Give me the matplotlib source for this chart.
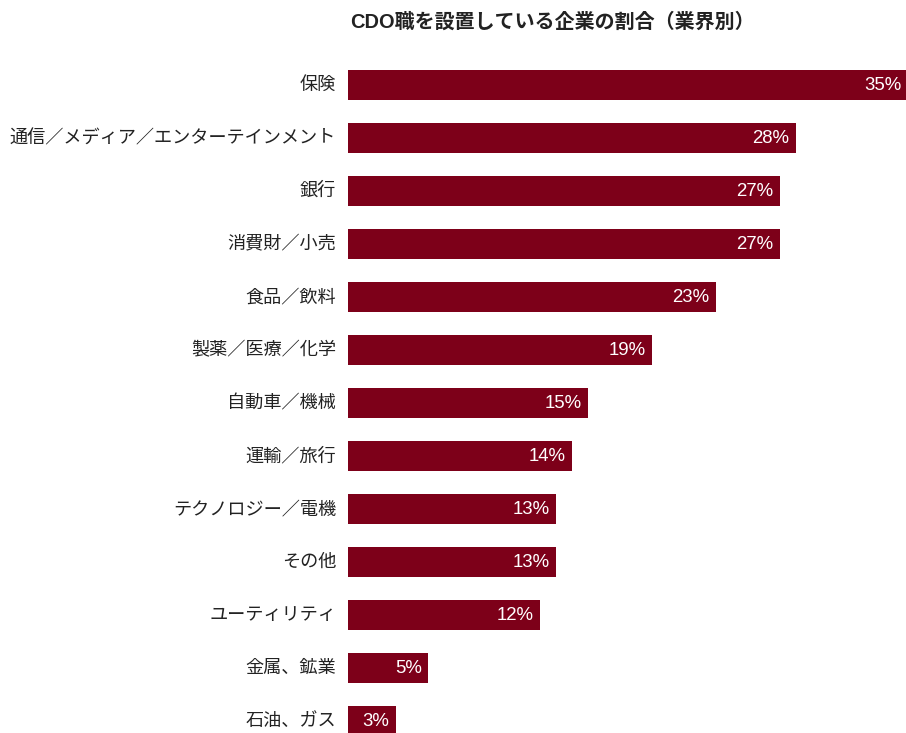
import matplotlib
matplotlib.use("Agg")
import matplotlib.pyplot as plt

plt.rcParams["font.family"] = ["Noto Sans CJK JP", "DejaVu Sans"]

# ===== Data =====
TITLE = "CDO職を設置している企業の割合（業界別）"
categories = [
    "保険",
    "通信／メディア／エンターテインメント",
    "銀行",
    "消費財／小売",
    "食品／飲料",
    "製薬／医療／化学",
    "自動車／機械",
    "運輸／旅行",
    "テクノロジー／電機",
    "その他",
    "ユーティリティ",
    "金属、鉱業",
    "石油、ガス",
]
values = [35, 28, 27, 27, 23, 19, 15, 14, 13, 13, 12, 5, 3]

BAR_COLOR = "#7d0019"
TEXT_COLOR = "#222222"
LATIN_FIRST = ["Liberation Sans", "Noto Sans CJK JP"]

W, H = 906, 733
fig = plt.figure(figsize=(W / 100, H / 100), dpi=100)

# bars start at x=348 px, 16 px per percent; centers at 85 + 53*i px
x0 = 348
ax = fig.add_axes([x0 / W, 0, (W - x0) / W, 1])
ax.set_xlim(0, (W - x0) / 16)
ax.set_ylim((H - 85) / 53, -85 / 53)
ax.axis("off")

ypos = list(range(len(categories)))
ax.barh(ypos, values, height=30 / 53, color=BAR_COLOR)

for y, v, name in zip(ypos, values, categories):
    ax.text(v - 0.4, y + 0.01, f"{v}%", ha="right", va="center",
            color="white", fontsize=13.4, family=LATIN_FIRST)
    ax.text(-12 / 16, y, name, ha="right", va="center",
            color=TEXT_COLOR, fontsize=13.1, clip_on=False)

fig.text(552 / W, 1 - 22 / H, TITLE, ha="center", va="center",
         fontsize=14.4, fontweight="bold", color=TEXT_COLOR,
         family=LATIN_FIRST)

fig.savefig("out.png", dpi=100)
